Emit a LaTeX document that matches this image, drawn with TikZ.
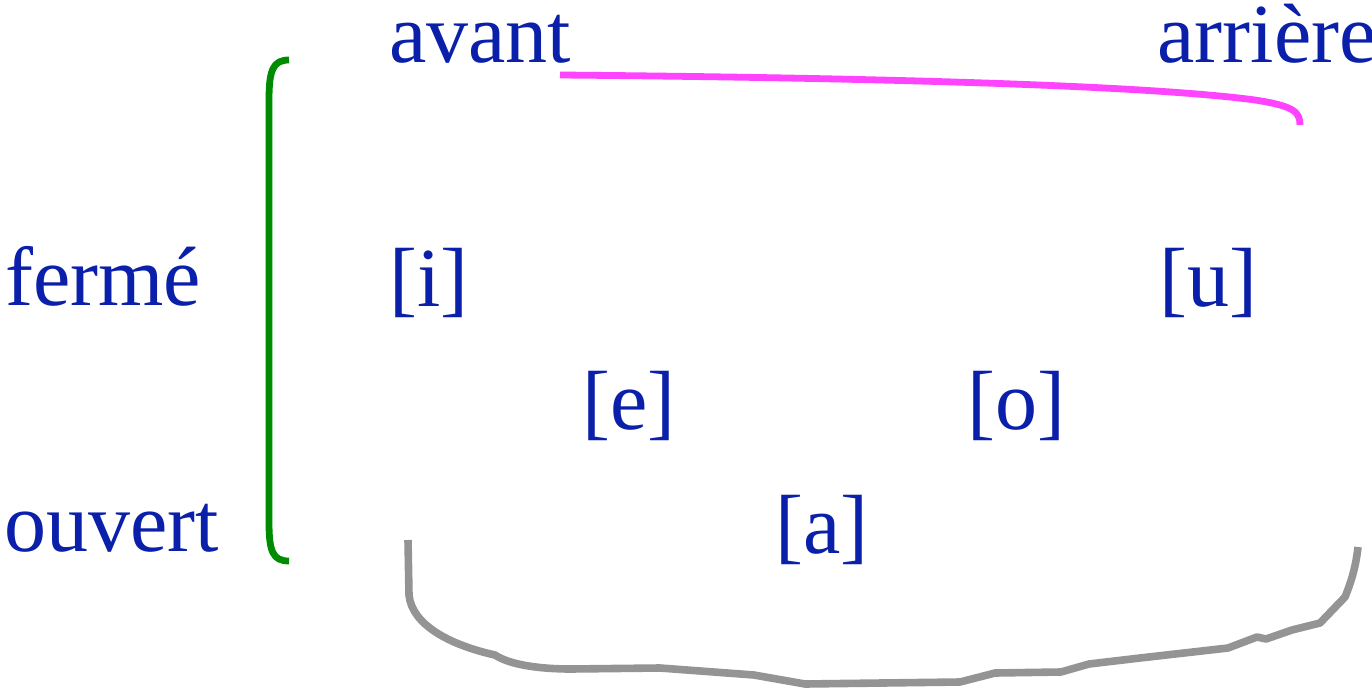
\documentclass[tikz,border=0pt]{standalone}
\usepackage{fontspec}
\setmainfont{Liberation Serif}
\usepackage{xcolor}
\usepackage{tikz}
\usetikzlibrary{positioning}

\definecolor{voyelle}{RGB}{10,31,170}
\definecolor{accolade}{RGB}{0,140,0}
\definecolor{trait}{RGB}{255,68,255}
\definecolor{fond}{RGB}{148,148,148}

\begin{document}
\begin{tikzpicture}[
	x=0.5pt, y=-0.5pt,
	mot/.style={anchor=base west, inner sep=0pt, text height=29pt, text depth=9pt, text=voyelle, font=\fontsize{42}{48}\selectfont},
	courbe/.style={line width=3.4pt, line cap=butt, line join=round}
	]
	
	\useasboundingbox (0,0) rectangle (1372,691);
	
	% axe avant / arriere
	\node[mot] (avant)   at (389,62) {avant};
	\node[mot] (arriere) at (1157,62) {arrière};
	
	% axe ferme / ouvert
	\node[mot] (ferme)  at (5,305) {fermé};
	\node[mot] (ouvert) at (4,551) {ouvert};
	
	% voyelles
	\node[mot] (vi) at (389,306) {[i]};
	\node[mot] (vu) at (1159,306) {[u]};
	\node[mot] (ve) at (582,429) {[e]};
	\node[mot] (vo) at (967,429) {[o]};
	\node[mot] (va) at (775,553) {[a]};
	
	% crochet vert
	\draw[courbe, accolade]
		(289,60) .. controls (273,60) and (269,70) .. (269,100)
		-- (269,522) .. controls (269,552) and (273,561) .. (289,561);
	
	% trait rose
	\draw[courbe, trait]
		(560,75) .. controls (900,78) and (1150,86) .. (1255,100)
		.. controls (1294,106) and (1300,112) .. (1300,125);
	
	% accolade grise
	\draw[courbe, fond, line width=3.8pt]
		(408,540) -- (409,595)
		.. controls (412,625) and (450,645) .. (495,655)
		.. controls (510,665) and (540,669) .. (571,669)
		-- (660,668) -- (754,675) -- (805,684) -- (960,682)
		-- (995,673) -- (1061,672) -- (1089,664) -- (1140,658)
		-- (1228,648) -- (1257,637) -- (1266,639) -- (1292,630)
		-- (1320,623) -- (1345,597)
		.. controls (1352,580) and (1356,565) .. (1358,547);
	
\end{tikzpicture}
\end{document}
